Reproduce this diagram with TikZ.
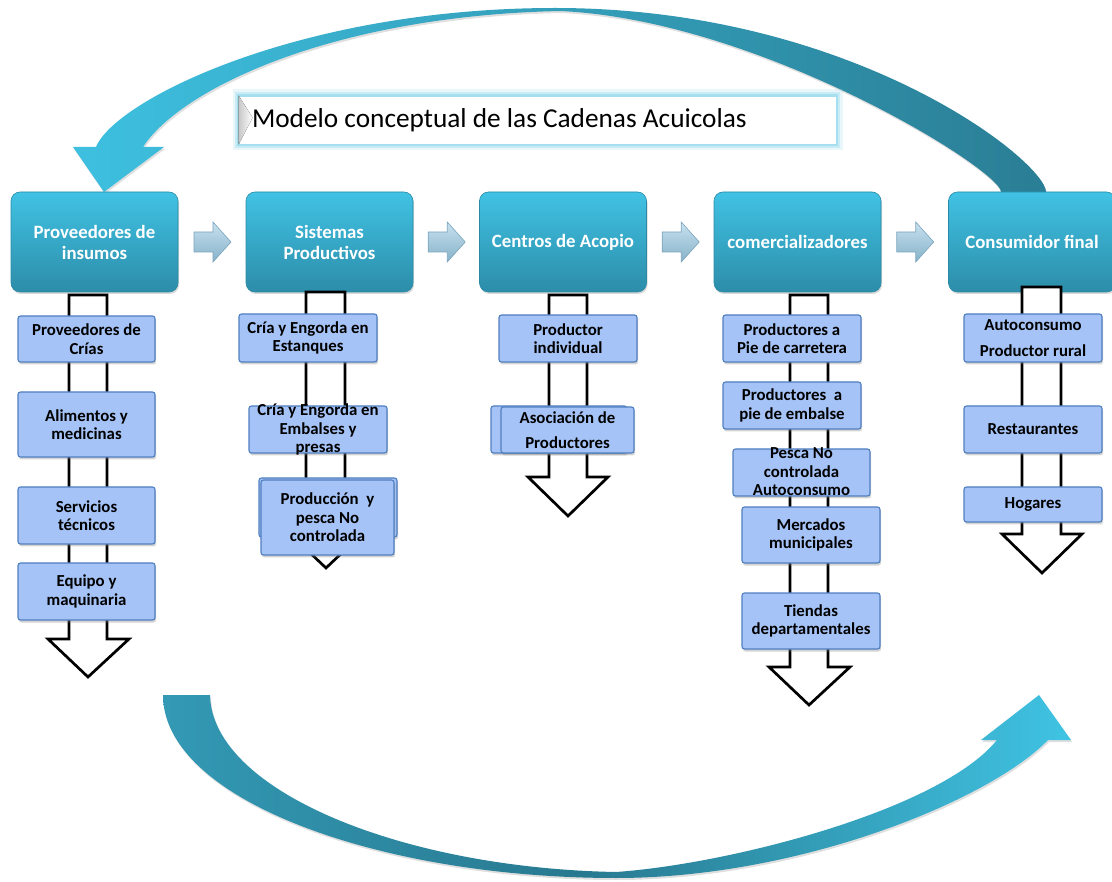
\documentclass[tikz,border=0pt]{standalone}
\usepackage{fontspec}
\setmainfont{Carlito}
\usetikzlibrary{shadows,calc}
\definecolor{hTop}{HTML}{41C2E4}
\definecolor{hBot}{HTML}{2C8DA9}
\definecolor{hEdge}{HTML}{2A8AA6}
\definecolor{subFill}{HTML}{A5C3F6}
\definecolor{subDraw}{HTML}{4F7FC0}
\definecolor{sTop}{HTML}{C8E1EF}
\definecolor{sBot}{HTML}{86B2C9}
\definecolor{sEdge}{HTML}{7AA4BC}
\definecolor{tglow}{HTML}{8FD6EA}
\definecolor{tA}{HTML}{3EC0E0}
\definecolor{tB}{HTML}{3397B3}
\definecolor{tC}{HTML}{2A7E95}
\definecolor{bA}{HTML}{3399B5}
\definecolor{bB}{HTML}{28798F}
\definecolor{bC}{HTML}{40C3E3}
\pgfdeclarehorizontalshading{botsh}{100bp}{color(0bp)=(bA); color(25bp)=(bA); color(48bp)=(bB); color(75bp)=(bC); color(100bp)=(bC)}
\begin{document}
\begin{tikzpicture}[x=1pt,y=-1pt,
  header/.style={rectangle, rounded corners=9pt, minimum width=167pt, minimum height=100pt,
    top color=hTop, bottom color=hBot, draw=hEdge, line width=0.6pt, text=white,
    font=\fontsize{18.8}{21}\selectfont\bfseries, align=center, inner sep=3pt,
    drop shadow={opacity=0.3, shadow xshift=1pt, shadow yshift=-2pt}},
  sub/.style={rectangle, rounded corners=2.5pt, fill=subFill, draw=subDraw, line width=1.1pt,
    inner sep=0pt, text=black, font=\fontsize{16.8}{18.5}\selectfont\bfseries, align=center,
    drop shadow={opacity=0.35, shadow xshift=1pt, shadow yshift=-2.5pt}},
  st/.style={font=\fontsize{16.8}{18.5}\selectfont\bfseries, align=center, inner sep=0pt, text=black},
  pipe/.style={draw=black, fill=white, line width=2.7pt, line join=miter},
  smallarr/.style={top color=sTop, bottom color=sBot, draw=sEdge, line width=0.6pt},
  toparr/.style={left color=tA, middle color=tB, right color=tC,
    drop shadow={opacity=0.25, shadow xshift=1pt, shadow yshift=-2pt}},
  botarr/.style={shading=botsh,
    drop shadow={opacity=0.25, shadow xshift=1pt, shadow yshift=-2pt}},
  titlebox/.style={rectangle, fill=white, draw=tglow!80, line width=0.8pt,
    minimum width=597pt, minimum height=48pt, inner sep=0pt,
    font=\fontsize{27.3}{30}\selectfont,
    preaction={draw=tglow, line width=13pt, opacity=0.2},
    preaction={draw=tglow, line width=8pt, opacity=0.35},
    preaction={draw=tglow, line width=4pt, opacity=0.6}}
]
\useasboundingbox (0,0) rectangle (1112,882);

% big curved arrows
\path[botarr] (163,695) .. controls (163,800) and (380,878) .. (616,878)
  .. controls (800,878) and (990,800) .. (1048,740) -- (1071,740) -- (1039,695) -- (981,740) -- (997,740)
  .. controls (940,810) and (730,864) .. (616,872)
  .. controls (400,868) and (212,790) .. (210,695) -- cycle;
\path[toparr] (104,192) -- (73,147) -- (96,147) .. controls (115,100) and (300,8) .. (555,8)
  .. controls (855,8) and (1046,162) .. (1046,192) -- (1001,192)
  .. controls (1001,170) and (760,20) .. (560,11)
  .. controls (330,16) and (180,90) .. (143,147) -- (164,147) -- cycle;

% title
\node[titlebox] (title) at (537.5,120) {\raisebox{-1.5pt}{\makebox[571pt][l]{Modelo conceptual de las Cadenas Acuicolas}}};
\fill[left color=black!22, right color=white] (title.north west) -- ++(14,22) -- (title.south west) -- cycle;

% header boxes
\node[header] (h1) at (94.5,242) {Proveedores de\\insumos};
\node[header] (h2) at (329.5,242) {Sistemas\\Productivos};
\node[header] (h3) at (563,242) {Centros de Acopio};
\node[header] (h4) at (797.5,242) {comercializadores};
\node[header] (h5) at (1032,242) {Consumidor final};

% small arrows between headers
\foreach \a/\b in {h1/h2,h2/h3,h3/h4,h4/h5}{
  \coordinate (m-\a) at ($(\a.east)!0.5!(\b.west)$);
  \path[smallarr] ($(m-\a)+(-18,-10)$) -- ($(m-\a)+(1,-10)$) -- ($(m-\a)+(1,-20)$) -- ($(m-\a)+(19,0)$)
    -- ($(m-\a)+(1,20)$) -- ($(m-\a)+(1,10)$) -- ($(m-\a)+(-18,10)$) -- cycle;
}

% hollow down arrows
\draw[pipe] (69,295) -- (69,639) -- (48,639) -- (88,677) -- (129,639) -- (107,639) -- (107,295) -- cycle;
\draw[pipe] (306,292) -- (306,530) -- (286,530) -- (326,568) -- (366,530) -- (345,530) -- (345,292) -- cycle;
\draw[pipe] (549,295) -- (549,477) -- (528,477) -- (568,516) -- (608,477) -- (587,477) -- (587,295) -- cycle;
\draw[pipe] (790,295) -- (790,667) -- (769,667) -- (809,705) -- (850,667) -- (828,667) -- (828,295) -- cycle;
\draw[pipe] (1022,287) -- (1022,534) -- (1002,534) -- (1042,573) -- (1082,534) -- (1061,534) -- (1061,287) -- cycle;

% column 1
\node[sub, minimum width=137pt, minimum height=46pt] (b11) at (86.5,339) {Proveedores de\\Crías};
\node[sub, minimum width=137pt, minimum height=65pt] (b12) at (86.5,424.5) {Alimentos y\\medicinas};
\node[sub, minimum width=137pt, minimum height=57pt] (b13) at (86.5,515.5) {Servicios\\técnicos};
\node[sub, minimum width=137pt, minimum height=57pt] (b14) at (86.5,591.5) {Equipo y\\maquinaria};

% column 2
\node[sub, minimum width=138pt, minimum height=48pt] (b21) at (308,338) {Cría y Engorda en\\Estanques};
\node[sub, minimum width=138pt, minimum height=47pt,
  label={[st]center:{Cría y Engorda en\\Embalses y\\presas}}] (b22) at (318,429.5) {};
\node[sub, minimum width=138pt, minimum height=59pt] (b23b) at (328,507.5) {};
\node[sub, minimum width=133pt, minimum height=75pt] (b23) at (327.5,517.5) {Producción\ \ y\\pesca No\\controlada};

% column 3
\node[sub, minimum width=138pt, minimum height=47pt] (b31) at (568,338.5) {Productor\\individual};
\node[sub, minimum width=136pt, minimum height=47pt] (b32b) at (559,429.5) {};
\node[sub, minimum width=133pt, minimum height=46pt] (b32) at (567.5,430) {Asociación de\\[7pt]Productores};

% column 4
\node[sub, minimum width=138pt, minimum height=47pt] (b41) at (792,338.5) {Productores a\\Pie de carretera};
\node[sub, minimum width=138pt, minimum height=47pt] (b42) at (792,405.5) {Productores\ \ a\\pie de embalse};
\node[sub, minimum width=137pt, minimum height=47pt,
  label={[st, yshift=0.5pt]center:{Pesca No\\controlada\\Autoconsumo}}] (b43) at (801.5,472.5) {};
\node[sub, minimum width=138pt, minimum height=56pt] (b44) at (811,535) {Mercados\\municipales};
\node[sub, minimum width=138pt, minimum height=56pt] (b45) at (811,621) {Tiendas\\departamentales};

% column 5
\node[sub, minimum width=138pt, minimum height=48pt] (b51) at (1033,338) {Autoconsumo\\[7pt]Productor rural};
\node[sub, minimum width=138pt, minimum height=47pt] (b52) at (1033,429.5) {Restaurantes};
\node[sub, minimum width=138pt, minimum height=35pt] (b53) at (1033,504.5) {Hogares};
\end{tikzpicture}
\end{document}
